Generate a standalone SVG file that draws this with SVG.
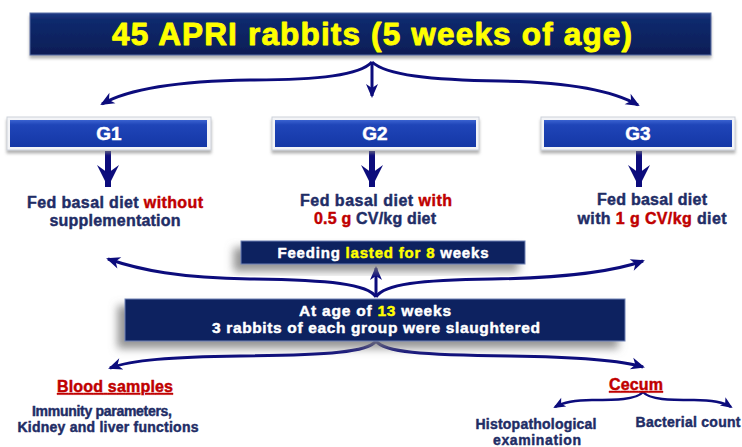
<svg xmlns="http://www.w3.org/2000/svg" width="742" height="447" viewBox="0 0 742 447">
<defs>
<linearGradient id="gTop" x1="0" y1="0" x2="0" y2="1">
<stop offset="0" stop-color="#1d3a85"/>
<stop offset="0.15" stop-color="#112a6e"/>
<stop offset="1" stop-color="#0a1d55"/>
</linearGradient>
<linearGradient id="gBlue" x1="0" y1="0" x2="0" y2="1">
<stop offset="0" stop-color="#3a62d0"/>
<stop offset="0.18" stop-color="#1f45b8"/>
<stop offset="1" stop-color="#1437a6"/>
</linearGradient>
<filter id="sh" x="-10%" y="-40%" width="120%" height="190%">
<feGaussianBlur in="SourceAlpha" stdDeviation="4"/>
<feOffset dx="-7" dy="7" result="b"/>
<feFlood flood-color="#7a7a7a" flood-opacity="0.8"/>
<feComposite in2="b" operator="in"/>
<feMerge><feMergeNode/><feMergeNode in="SourceGraphic"/></feMerge>
</filter>
<filter id="sh2" x="-5%" y="-20%" width="110%" height="150%">
<feGaussianBlur in="SourceAlpha" stdDeviation="1.5"/>
<feOffset dx="0" dy="2.5" result="b"/>
<feFlood flood-color="#808080" flood-opacity="0.6"/>
<feComposite in2="b" operator="in"/>
<feMerge><feMergeNode/><feMergeNode in="SourceGraphic"/></feMerge>
</filter>
<marker id="ah" markerUnits="userSpaceOnUse" markerWidth="16" markerHeight="14" viewBox="-13 -7 16 14" refX="0" refY="0" orient="auto">
<path d="M2,0 L-12,-6 L-8,0 L-12,6 Z" fill="#0c0c7c"/>
</marker>
<marker id="ahs" markerUnits="userSpaceOnUse" markerWidth="14" markerHeight="12" viewBox="-11 -6 14 12" refX="0" refY="0" orient="auto">
<path d="M2,0 L-10,-5 L-7,0 L-10,5 Z" fill="#0c0c7c"/>
</marker>
<marker id="big" markerUnits="userSpaceOnUse" markerWidth="26" markerHeight="26" viewBox="-24 -13 26 26" refX="0" refY="0" orient="auto">
<path d="M0,0 L-22,-11 L-14,0 L-22,11 Z" fill="#0c0c7c"/>
</marker>
</defs>
<style>
text{font-family:"Liberation Sans",Arial,sans-serif;font-weight:bold;text-anchor:middle;stroke-width:0.45;stroke-linejoin:round}
.nv{fill:#1f2d66;stroke:#1f2d66}
.rd{fill:#c00000;stroke:#c00000}
.wh{fill:#ffffff;stroke:#ffffff}
.yl{fill:#ffff00;stroke:#ffff00}
.big{stroke-width:0.9}
.c{fill:none;stroke:#0c0c7c;stroke-width:3}
.cs{fill:none;stroke:#0c0c7c;stroke-width:2.5}
.cb{fill:none;stroke:#0c0c7c;stroke-width:6}
.dk{fill:#0b2160;stroke:#6f82b5;stroke-width:1}
.frame{fill:#f3f4f7;stroke:#cdd1da;stroke-width:1}
</style>
<rect width="742" height="447" fill="#ffffff"/>

<g id="connectors">
<path class="c" d="M372,62 C360,75 320,80 250,80 C180,81 130,88 102,104" marker-end="url(#ah)"/>
<path class="c" d="M372,62 L372,96" marker-end="url(#ah)"/>
<path class="c" d="M372,62 C386,75 430,80 500,81 C570,82 612,90 638,105" marker-end="url(#ah)"/>
<path class="cb" d="M108,151 L108,187" marker-end="url(#big)"/>
<path class="cb" d="M372,151 L372,187" marker-end="url(#big)"/>
<path class="cb" d="M639,151 L639,187" marker-end="url(#big)"/>
<path class="c" d="M376,297 C368,284 330,280 250,279 C180,278 140,270 108,259" marker-end="url(#ah)"/>
<path class="c" d="M376,297 L376,268" marker-end="url(#ah)"/>
<path class="c" d="M376,297 C384,284 420,280 492,279 C560,278 612,272 643,261" marker-end="url(#ah)"/>
<path class="c" d="M376,341 C368,352 330,355 240,356 C170,357 132,360 110,368" marker-end="url(#ah)"/>
<path class="c" d="M376,341 C384,352 420,355 510,356 C580,357 620,360 643,367" marker-end="url(#ah)"/>
<path class="cs" d="M643,392 C636,400 615,400 592,400 C572,400 562,403 555,407" marker-end="url(#ahs)"/>
<path class="cs" d="M643,392 C650,400 670,400 694,400 C714,400 725,403 731,407" marker-end="url(#ahs)"/>
</g>

<g id="top">
<rect x="30" y="13" width="681" height="42" fill="url(#gTop)" stroke="#5a6ea6" stroke-width="1" filter="url(#sh2)"/>
<text x="372" y="45" font-size="31.5" textLength="520" lengthAdjust="spacing" class="yl big">45 APRI rabbits (5 weeks of age)</text>
</g>

<g id="g1">
<rect class="frame" x="7" y="117" width="204" height="33" filter="url(#sh2)"/>
<rect x="10" y="120" width="197" height="27" fill="url(#gBlue)"/>
<text x="109" y="140" font-size="19" class="wh">G1</text>
</g>
<g id="g2">
<rect class="frame" x="272" y="117" width="207" height="33" filter="url(#sh2)"/>
<rect x="275" y="120" width="201" height="27" fill="url(#gBlue)"/>
<text x="375" y="140" font-size="19" class="wh">G2</text>
</g>
<g id="g3">
<rect class="frame" x="541" y="117" width="194" height="33" filter="url(#sh2)"/>
<rect x="544" y="120" width="188" height="27" fill="url(#gBlue)"/>
<text x="638" y="140" font-size="19" class="wh">G3</text>
</g>

<g id="t1">
<text x="115" y="208" font-size="16" textLength="176" lengthAdjust="spacing"><tspan class="nv">Fed basal diet </tspan><tspan class="rd">without</tspan></text>
<text x="115" y="226" font-size="16" textLength="131" lengthAdjust="spacing" class="nv">supplementation</text>
</g>
<g id="t2">
<text x="376" y="206" font-size="16" textLength="152" lengthAdjust="spacing"><tspan class="nv">Fed basal diet </tspan><tspan class="rd">with</tspan></text>
<text x="375" y="224" font-size="16" textLength="122" lengthAdjust="spacing"><tspan class="rd">0.5 g</tspan><tspan class="nv"> CV/kg diet</tspan></text>
</g>
<g id="t3">
<text x="652" y="205" font-size="16" textLength="110" lengthAdjust="spacing" class="nv">Fed basal diet</text>
<text x="652" y="224" font-size="16" textLength="149" lengthAdjust="spacing"><tspan class="nv">with </tspan><tspan class="rd">1 g CV/kg</tspan><tspan class="nv"> diet</tspan></text>
</g>

<g id="feeding">
<rect class="dk" x="241" y="241" width="284" height="23" filter="url(#sh)"/>
<text x="383" y="258" font-size="15" textLength="211" lengthAdjust="spacing"><tspan class="wh">Feeding </tspan><tspan class="yl">lasted for 8</tspan><tspan class="wh"> weeks</tspan></text>
</g>

<g id="slaughter">
<rect class="dk" x="125" y="299" width="500" height="42" filter="url(#sh)"/>
<text x="375" y="316" font-size="15.5" textLength="152" lengthAdjust="spacing"><tspan class="wh">At age of </tspan><tspan class="yl">13</tspan><tspan class="wh"> weeks</tspan></text>
<text x="376" y="333" font-size="15.5" textLength="328" lengthAdjust="spacing" class="wh">3 rabbits of each group were slaughtered</text>
</g>

<g id="blood">
<text x="115" y="392" font-size="16" textLength="116" lengthAdjust="spacing" class="rd" text-decoration="underline">Blood samples</text>
<text x="102" y="416" font-size="14" textLength="140" lengthAdjust="spacing" class="nv">Immunity parameters,</text>
<text x="108" y="432" font-size="14" textLength="181" lengthAdjust="spacing" class="nv">Kidney and liver functions</text>
</g>

<g id="cecum">
<text x="636" y="390" font-size="16" textLength="54" lengthAdjust="spacing" class="rd" text-decoration="underline">Cecum</text>
</g>
<g id="histo">
<text x="536" y="429" font-size="14" textLength="121" lengthAdjust="spacing" class="nv">Histopathological</text>
<text x="537" y="445" font-size="14" textLength="88" lengthAdjust="spacing" class="nv">examination</text>
</g>
<g id="bact">
<text x="688" y="427" font-size="14" textLength="105" lengthAdjust="spacing" class="nv">Bacterial count</text>
</g>
</svg>
